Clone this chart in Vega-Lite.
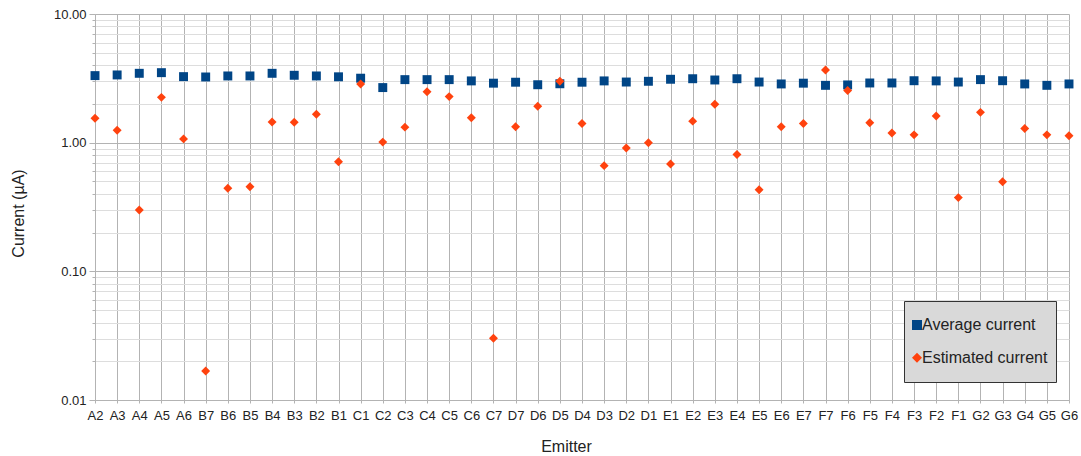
{
  "$schema": "https://vega.github.io/schema/vega-lite/v6.json",
  "autosize": {"type": "none"},
  "width": 974,
  "height": 386,
  "padding": {"left": 95, "top": 14, "right": 12, "bottom": 56},
  "background": "#ffffff",
  "config": {
    "view": {"stroke": null},
    "font": "Liberation Sans",
    "axis": {"labelFont": "Liberation Sans", "titleFont": "Liberation Sans", "labelColor": "#222222", "titleColor": "#222222", "titleFontWeight": "normal"}
  },
  "data": {
    "values": [
      {"emitter": "A2", "Average current": 3.32, "Estimated current": 1.55},
      {"emitter": "A3", "Average current": 3.36, "Estimated current": 1.25},
      {"emitter": "A4", "Average current": 3.46, "Estimated current": 0.30},
      {"emitter": "A5", "Average current": 3.50, "Estimated current": 2.25},
      {"emitter": "A6", "Average current": 3.26, "Estimated current": 1.07},
      {"emitter": "B7", "Average current": 3.24, "Estimated current": 0.0168},
      {"emitter": "B6", "Average current": 3.30, "Estimated current": 0.442},
      {"emitter": "B5", "Average current": 3.30, "Estimated current": 0.455},
      {"emitter": "B4", "Average current": 3.46, "Estimated current": 1.45},
      {"emitter": "B3", "Average current": 3.34, "Estimated current": 1.44},
      {"emitter": "B2", "Average current": 3.30, "Estimated current": 1.66},
      {"emitter": "B1", "Average current": 3.25, "Estimated current": 0.711},
      {"emitter": "C1", "Average current": 3.17, "Estimated current": 2.86},
      {"emitter": "C2", "Average current": 2.68, "Estimated current": 1.01},
      {"emitter": "C3", "Average current": 3.09, "Estimated current": 1.32},
      {"emitter": "C4", "Average current": 3.09, "Estimated current": 2.49},
      {"emitter": "C5", "Average current": 3.09, "Estimated current": 2.28},
      {"emitter": "C6", "Average current": 3.02, "Estimated current": 1.56},
      {"emitter": "C7", "Average current": 2.90, "Estimated current": 0.0302},
      {"emitter": "D7", "Average current": 2.95, "Estimated current": 1.33},
      {"emitter": "D6", "Average current": 2.82, "Estimated current": 1.92},
      {"emitter": "D5", "Average current": 2.87, "Estimated current": 3.00},
      {"emitter": "D4", "Average current": 2.95, "Estimated current": 1.41},
      {"emitter": "D3", "Average current": 3.02, "Estimated current": 0.663},
      {"emitter": "D2", "Average current": 2.96, "Estimated current": 0.91},
      {"emitter": "D1", "Average current": 3.00, "Estimated current": 1.00},
      {"emitter": "E1", "Average current": 3.11, "Estimated current": 0.683},
      {"emitter": "E2", "Average current": 3.14, "Estimated current": 1.47},
      {"emitter": "E3", "Average current": 3.07, "Estimated current": 1.99},
      {"emitter": "E4", "Average current": 3.14, "Estimated current": 0.81},
      {"emitter": "E5", "Average current": 2.96, "Estimated current": 0.431},
      {"emitter": "E6", "Average current": 2.86, "Estimated current": 1.33},
      {"emitter": "E7", "Average current": 2.90, "Estimated current": 1.41},
      {"emitter": "F7", "Average current": 2.79, "Estimated current": 3.67},
      {"emitter": "F6", "Average current": 2.81, "Estimated current": 2.54},
      {"emitter": "F5", "Average current": 2.91, "Estimated current": 1.43},
      {"emitter": "F4", "Average current": 2.91, "Estimated current": 1.19},
      {"emitter": "F3", "Average current": 3.03, "Estimated current": 1.15},
      {"emitter": "F2", "Average current": 3.02, "Estimated current": 1.61},
      {"emitter": "F1", "Average current": 2.96, "Estimated current": 0.374},
      {"emitter": "G2", "Average current": 3.09, "Estimated current": 1.72},
      {"emitter": "G3", "Average current": 3.03, "Estimated current": 0.497},
      {"emitter": "G4", "Average current": 2.86, "Estimated current": 1.29},
      {"emitter": "G5", "Average current": 2.79, "Estimated current": 1.15},
      {"emitter": "G6", "Average current": 2.86, "Estimated current": 1.13}
    ]
  },
  "transform": [
    {"fold": ["Average current", "Estimated current"], "as": ["series", "current"]}
  ],
  "mark": {"type": "point", "filled": true, "opacity": 1, "size": 80, "strokeWidth": 0},
  "encoding": {
    "x": {
      "field": "emitter",
      "type": "nominal",
      "sort": null,
      "scale": {"type": "point", "padding": 0},
      "axis": {
        "title": "Emitter",
        "labelAngle": 0,
        "labelFontSize": 13,
        "labelPadding": 6,
        "tickSize": 3,
        "tickColor": "#b3b3b3",
        "domainColor": "#b3b3b3",
        "grid": true,
        "gridColor": "#b3b3b3",
        "titleFontSize": 16,
        "titleX": 471,
        "titleY": 51,
        "titleAnchor": null,
        "titleAlign": "center",
        "titleBaseline": "alphabetic"
      }
    },
    "y": {
      "field": "current",
      "type": "quantitative",
      "scale": {"type": "log", "domain": [0.01, 10], "nice": false, "zero": false},
      "axis": {
        "title": "Current (µA)",
        "values": [0.01, 0.02, 0.03, 0.04, 0.05, 0.06, 0.07, 0.08, 0.09, 0.1, 0.2, 0.3, 0.4, 0.5, 0.6, 0.7, 0.8, 0.9, 1, 2, 3, 4, 5, 6, 7, 8, 9, 10],
        "labelExpr": "abs(log(datum.value)/LN10 - round(log(datum.value)/LN10)) < 0.001 ? format(datum.value, '.2f') : ''",
        "labelOverlap": false,
        "labelFontSize": 13,
        "labelPadding": 3,
        "tickSize": {"condition": {"test": "abs(log(datum.value)/LN10 - round(log(datum.value)/LN10)) < 0.001", "value": 6}, "value": 3},
        "tickColor": "#b3b3b3",
        "domainColor": "#b3b3b3",
        "grid": true,
        "gridColor": {"condition": {"test": "abs(log(datum.value)/LN10 - round(log(datum.value)/LN10)) < 0.001", "value": "#b3b3b3"}, "value": "#dddddd"},
        "titleFontSize": 16,
        "titleX": -77,
        "titleY": 199,
        "titleAngle": -90,
        "titleAnchor": null,
        "titleAlign": "center",
        "titleBaseline": "middle"
      }
    },
    "color": {
      "field": "series",
      "type": "nominal",
      "scale": {"domain": ["Average current", "Estimated current"], "range": ["#004586", "#ff420e"]},
      "legend": {
        "title": null,
        "orient": "none",
        "legendX": 809,
        "legendY": 287,
        "fillColor": "#d9d9d9",
        "strokeColor": "#333333",
        "padding": 8,
        "clipHeight": 32,
        "rowPadding": 0.7,
        "symbolSize": 100,
        "symbolOpacity": 1,
        "symbolStrokeWidth": 0,
        "symbolOffset": -3,
        "labelOffset": -3,
        "labelFont": "Liberation Sans",
        "labelFontSize": 16,
        "labelColor": "#222222",
        "labelLimit": 300
      }
    },
    "shape": {
      "field": "series",
      "type": "nominal",
      "scale": {"domain": ["Average current", "Estimated current"], "range": ["square", "diamond"]}
    }
  }
}
